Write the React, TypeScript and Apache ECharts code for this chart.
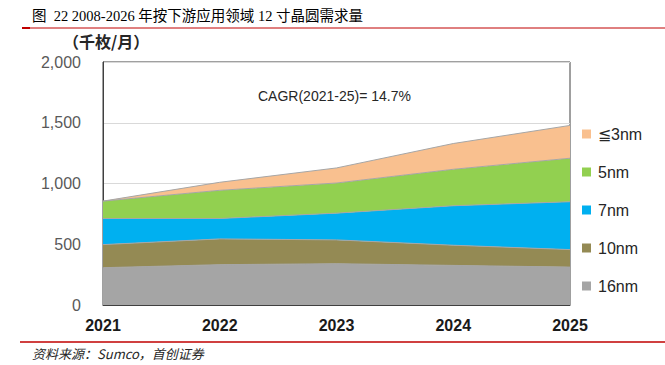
import React, { useEffect, useRef } from "react";
import * as echarts from "echarts";

const years = ["2021", "2022", "2023", "2024", "2025"];
const nm16 = [307, 332, 340, 326, 312];
const nm10 = [190, 212, 196, 166, 144];
const nm7 = [215, 168, 220, 325, 394];
const nm5 = [143, 232, 248, 300, 358];
const nm3 = [0, 66, 124, 212, 270];
const seriesNames = ["16nm", "10nm", "7nm", "5nm", "≦3nm"];
const seriesColors = ["#A5A5A5", "#948A54", "#00B0F0", "#92D050", "#F9C08F"];
const yTicks = { min: 0, max: 2000, interval: 500 };

export default function App() {
  const ref = useRef<HTMLDivElement>(null);
  useEffect(() => {
    const chart = echarts.init(ref.current!, null, { renderer: "svg" });
    const data = [nm16, nm10, nm7, nm5, nm3];
    chart.setOption({
      animation: false,
      backgroundColor: "#ffffff",
      grid: {
        left: 103,
        right: 95,
        top: 62,
        bottom: 60,
        show: true,
        borderColor: "#404040",
        borderWidth: 1,
      },
      xAxis: {
        type: "category",
        data: years,
        boundaryGap: false,
        axisLine: { show: true, lineStyle: { color: "#404040" } },
        axisTick: { show: false },
        axisLabel: {
          color: "#1a1a1a",
          fontSize: 16,
          fontFamily: "Liberation Sans, Arial",
          fontWeight: "bold",
          margin: 12,
        },
      },
      yAxis: {
        type: "value",
        min: yTicks.min,
        max: yTicks.max,
        interval: yTicks.interval,
        axisLine: { show: true, lineStyle: { color: "#404040" } },
        axisTick: { show: false },
        splitLine: { lineStyle: { color: "#d9d9d9" } },
        axisLabel: {
          color: "#595959",
          fontSize: 16,
          fontFamily: "Liberation Sans, Arial",
          margin: 22,
          formatter: (v: number) => v.toLocaleString("en-US"),
        },
      },
      legend: {
        orient: "vertical",
        left: 577,
        top: 121,
        itemWidth: 9,
        itemHeight: 9,
        itemGap: 22,
        icon: "rect",
        data: ["≦3nm", "5nm", "7nm", "10nm", "16nm"],
        textStyle: { color: "#262626", fontSize: 16, fontFamily: "Liberation Sans, Arial", padding: [0, 0, 0, 2] },
      },
      series: seriesNames.map((name, i) => ({
        name,
        type: "line",
        stack: "total",
        data: data[i],
        symbol: "none",
        color: seriesColors[i],
        lineStyle: { color: "#a6a6a6", width: 1 },
        areaStyle: { color: seriesColors[i], opacity: 1 },
      })),
      graphic: [
        {
          type: "text",
          left: 32,
          top: 9,
          style: {
            text: "图  22 2008-2026 年按下游应用领域 12 寸晶圆需求量",
            fontSize: 14.5,
            fontFamily: "Liberation Serif, Noto Sans CJK SC",
            fill: "#000",
          },
        },
        { type: "line", shape: { x1: 22, y1: 28, x2: 665, y2: 28 }, style: { stroke: "#c00000", lineWidth: 1 } },
        { type: "rect", shape: { x: 22, y: 27, width: 8, height: 2 }, style: { fill: "#c00000" } },
        {
          type: "text",
          left: 63,
          top: 33,
          style: {
            text: "（千枚/月）",
            fontSize: 16,
            fontFamily: "Noto Sans CJK SC",
            fontWeight: "bold",
            fill: "#262626",
          },
        },
        {
          type: "text",
          left: 258,
          top: 89,
          style: {
            text: "CAGR(2021-25)= 14.7%",
            fontSize: 14,
            fontFamily: "Liberation Sans, Arial",
            fill: "#262626",
          },
        },
        { type: "line", shape: { x1: 20, y1: 342, x2: 665, y2: 342 }, style: { stroke: "#c00000", lineWidth: 1.5 } },
        {
          type: "text",
          left: 32,
          top: 347,
          style: {
            text: "资料来源：Sumco，首创证券",
            fontSize: 13,
            fontStyle: "italic",
            fontFamily: "Noto Sans CJK SC",
            fill: "#262626",
          },
        },
      ],
    });
    return () => chart.dispose();
  }, []);
  return (
    <div
      ref={ref}
      style={{ position: "absolute", left: 0, top: 0, width: 665, height: 365 }}
    />
  );
}
